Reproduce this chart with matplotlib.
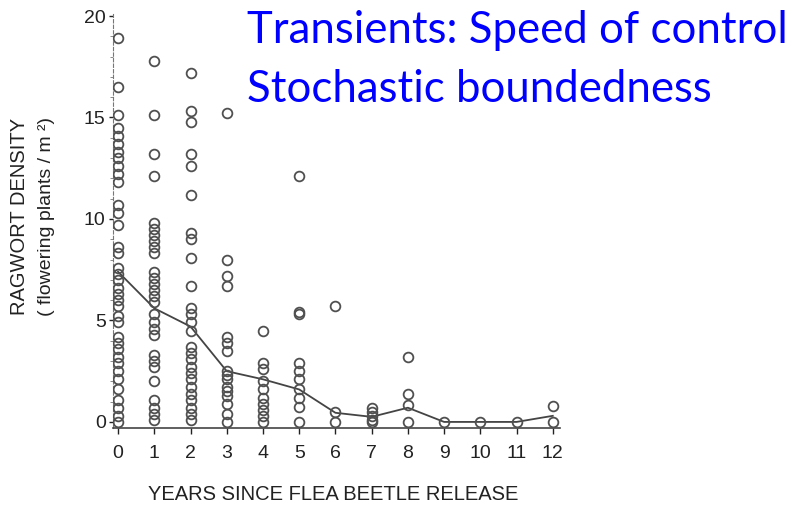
import matplotlib.pyplot as plt

# ragwort density per quadrat, grouped by years since flea beetle release
years = list(range(13))
year_labels = [str(y) for y in years]

density_y0 = [18.9, 16.5, 15.1, 14.5, 14.1, 13.7, 13.3, 13.0, 12.6, 12.2, 11.8,
              10.7, 10.3, 9.7, 8.6, 8.3, 7.6, 7.3, 7.0, 6.6, 6.3, 6.0, 5.7,
              5.2, 4.9, 4.2, 3.9, 3.6, 3.2, 2.9, 2.5, 2.1, 1.6, 1.1, 0.7, 0.3, 0.0]
density_y1 = [17.8, 15.1, 13.2, 12.1, 9.8, 9.5, 9.2, 8.9, 8.6, 8.3, 7.4, 7.1,
              6.8, 6.5, 6.2, 5.9, 5.3, 4.9, 4.6, 4.3, 3.3, 3.0, 2.7, 2.0, 1.1,
              0.7, 0.4, 0.1]
density_y2 = [17.2, 15.3, 14.8, 13.2, 12.6, 11.2, 9.3, 9.0, 8.1, 6.7, 5.6, 5.3,
              4.9, 4.5, 3.7, 3.4, 3.1, 2.7, 2.4, 2.1, 1.7, 1.4, 1.1, 0.7, 0.4, 0.1]
density_y3 = [15.2, 8.0, 7.2, 6.7, 4.2, 3.9, 3.5, 2.5, 2.3, 2.1, 1.7, 1.5, 1.3,
              0.9, 0.4, 0.0]
density_y4 = [4.5, 2.9, 2.6, 2.0, 1.6, 1.2, 0.9, 0.6, 0.3, 0.0]
density_y5 = [12.1, 5.4, 5.3, 2.9, 2.5, 2.1, 1.6, 1.2, 0.75, 0.0]
density_y6 = [5.7, 0.5, 0.0]
density_y7 = [0.7, 0.5, 0.3, 0.1, 0.0]
density_y8 = [3.2, 1.4, 0.85, 0.0]
density_y9 = [0.0]
density_y10 = [0.0]
density_y11 = [0.0]
density_y12 = [0.8, 0.0]

mean_density = [7.4, 5.6, 4.7, 2.5, 2.1, 1.6, 0.45, 0.25, 0.7, 0.0, 0.0, 0.0, 0.3]

y_ticks = [0, 5, 10, 15, 20]

plt.rcParams['font.family'] = ['Liberation Sans', 'DejaVu Sans']

fig = plt.figure(figsize=(7.92, 5.07), dpi=100)
ax = fig.add_axes([0.1422, 0.1558, 0.5649, 0.8166])

all_years = [density_y0, density_y1, density_y2, density_y3, density_y4,
             density_y5, density_y6, density_y7, density_y8, density_y9,
             density_y10, density_y11, density_y12]
for yr, vals in zip(years, all_years):
    ax.plot([yr] * len(vals), vals, 'o', mfc='none', mec='#505050',
            ms=7, mew=1.3, zorder=3)

ax.plot(years, mean_density, '-', color='#444444', lw=1.3, zorder=2)

ax.set_xlim(-0.15, 12.2)
ax.set_ylim(-0.3, 20.1)
ax.set_xticks(years)
ax.set_xticklabels(year_labels)
ax.set_yticks(y_ticks)
ax.set_yticks(range(0, 21), minor=True)

for side in ['top', 'right']:
    ax.spines[side].set_visible(False)
ax.spines['bottom'].set_color('#444444')
ax.spines['bottom'].set_linewidth(1.2)
ax.spines['left'].set_color('#777777')
ax.spines['left'].set_linewidth(0.8)
ax.spines['left'].set_linestyle((0, (3, 2)))

ax.tick_params(axis='x', length=4, width=1, colors='#222222', labelsize=14, pad=8)
ax.tick_params(axis='y', which='major', length=3, width=1, colors='#222222',
               labelsize=14, pad=2)
ax.tick_params(axis='y', which='minor', length=2, width=0.6, colors='#777777')

fig.text(333 / 792, (507 - 494) / 507, 'YEARS SINCE FLEA BEETLE RELEASE',
         ha='center', va='center', fontsize=14.5, color='#222222')
fig.text(20 / 792, (507 - 216) / 507, 'RAGWORT DENSITY', rotation=90,
         ha='center', va='center', fontsize=14.5, color='#222222')
fig.text(47 / 792, (507 - 216) / 507, '( flowering plants / m ²)', rotation=90,
         ha='center', va='center', fontsize=14, color='#222222')

fig.text(247 / 792, (507 - 43) / 507, 'Transients: Speed of control',
         color='#0000FF', fontsize=31.5, family=['Lato', 'DejaVu Sans'],
         ha='left', va='baseline')
fig.text(247 / 792, (507 - 102) / 507, 'Stochastic boundedness',
         color='#0000FF', fontsize=31.5, family=['Lato', 'DejaVu Sans'],
         ha='left', va='baseline')

fig.savefig('out.png', dpi=100)
